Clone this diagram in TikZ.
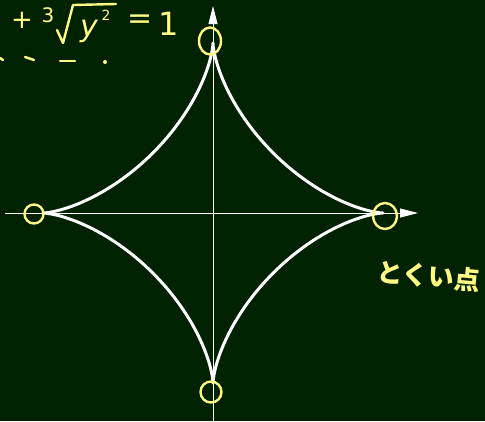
\documentclass[tikz,border=0pt]{standalone}
\usepackage{fontspec}
\newfontfamily\jpfont{Noto Sans CJK JP}
\newfontfamily\handfont{DejaVu Sans}
\usetikzlibrary{arrows.meta,shapes.geometric}
\definecolor{board}{RGB}{0,34,0}
\definecolor{chalk}{RGB}{255,250,130}
\tikzset{
  axisline/.style={white, line width=0.9pt},
  curveline/.style={white, line width=3pt, line join=round},
  ring/.style={draw=chalk, line width=2.4pt, inner sep=0pt},
  scribble/.style={chalk, line width=2.4pt, line cap=round, line join=round},
  handtext/.style={chalk, inner sep=0pt, font=\handfont}
}
\begin{document}
\begin{tikzpicture}[x=1pt,y=-1pt]
\fill[board] (0,0) rectangle (485,421);
\useasboundingbox (0,0) rectangle (485,421);
\clip (0,0) rectangle (485,421);
% axes
\coordinate (O) at (213,213);
\coordinate (xs) at (5,213);
\coordinate (xe) at (418,213);
\coordinate (ys) at (213,421);
\coordinate (ye) at (213,6);
\draw[axisline, -{Triangle[length=18pt,width=9pt]}] (xs) -- (xe);
\draw[axisline, -{Triangle[length=18pt,width=9pt]}] (ys) -- (ye);
% astroid
\draw[curveline, domain=0:360, samples=361]
  plot ({213+170*cos(\x)*cos(\x)*cos(\x)},{213-170*sin(\x)*sin(\x)*sin(\x)}) -- cycle;
% cusp circles
\node[ring, ellipse, minimum width=22pt, minimum height=27pt] (ctop) at (210,41) {};
\node[ring, circle, minimum size=19pt] (cleft) at (34,214) {};
\node[ring, ellipse, minimum width=24pt, minimum height=26pt] (cright) at (385,216) {};
\node[ring, circle, minimum size=21pt] (cbottom) at (211,392) {};
% formula scribble, piece by piece
\node[handtext] (plus) at (22,20) {\fontsize{26}{28}\selectfont +};
\node[handtext] (idx) at (48,15) {\fontsize{20}{22}\selectfont 3};
\draw[scribble] (57,30) -- (63,43) -- (73,5) -- (116,4);
\node[handtext] (yy) at (89,31) {\fontsize{30}{32}\selectfont\itshape y};
\node[handtext] (sq) at (106,15) {\fontsize{14}{16}\selectfont 2};
\node[handtext] (eq) at (140,22) {\fontsize{30}{32}\selectfont =};
\node[handtext] (one) at (169,24) {\fontsize{32}{34}\selectfont 1};
\draw[scribble] (0,58) -- (3,60);
\draw[scribble] (25,57) -- (34,60);
\draw[scribble] (60,61) -- (75,61);
\fill[chalk] (105,62) circle (2pt);
% label
\node[handtext, rotate=-5] (label) at (429,276) {\jpfont\bfseries\fontsize{26}{28}\selectfont とくい点};
\end{tikzpicture}
\end{document}
